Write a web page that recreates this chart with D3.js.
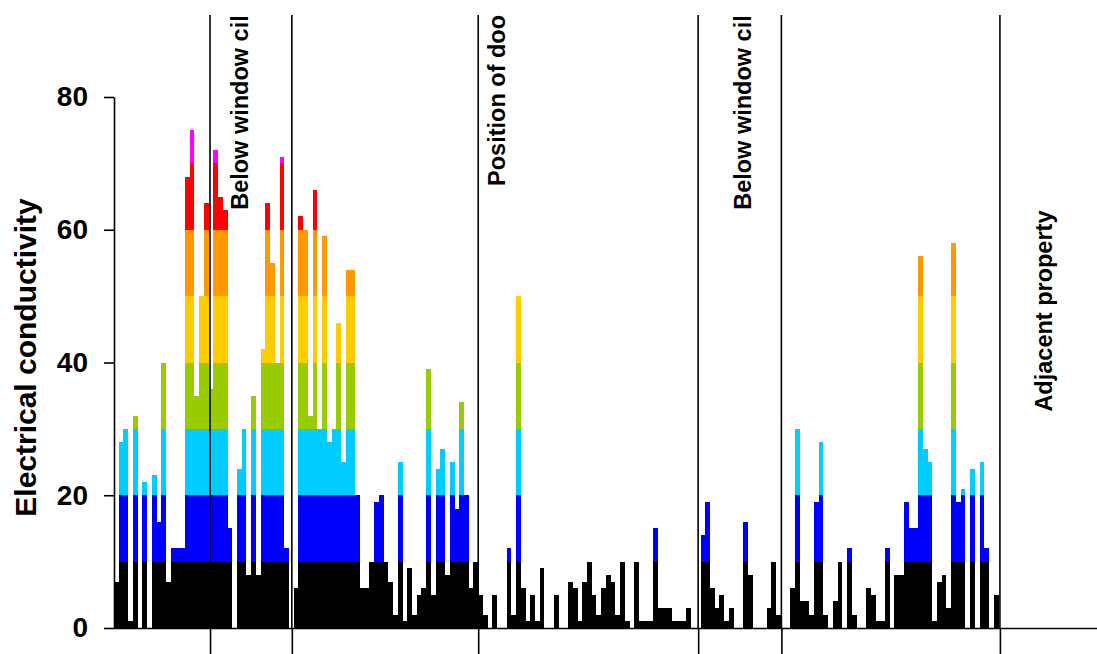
<!DOCTYPE html>
<html>
<head>
<meta charset="utf-8">
<script src="https://cdnjs.cloudflare.com/ajax/libs/d3/7.8.5/d3.min.js"></script>
<style>
  body { margin: 0; background: #fff; }
  text { font-family: "Liberation Sans", Arial, sans-serif; font-weight: bold; }
</style>
</head>
<body>
<div id="chart"></div>
<script>
// Conductivity reading for each position along the wall
const conductivity = [
  7, 28, 30, 1, 32, 0, 22, 0, 23, 16, 40, 7, 12, 12, 12, 68, 75, 35, 50, 64,
  36, 72, 65, 63, 15, 0, 24, 30, 8, 35, 8, 42, 64, 55, 40, 71, 12, 0, 6, 62,
  60, 32, 66, 30, 59, 28, 30, 46, 25, 54, 54, 20, 6, 6, 10, 19, 20, 10, 7, 2,
  25, 1, 9, 2, 5, 6, 39, 5, 24, 27, 8, 25, 18, 34, 20, 6, 10, 5, 2, 0,
  5, 0, 0, 12, 2, 50, 6, 1, 5, 1, 9, 0, 0, 5, 0, 0, 7, 6, 1, 7,
  10, 5, 2, 6, 8, 7, 2, 10, 1, 0, 10, 1, 1, 1, 15, 3, 3, 3, 1, 1,
  1, 3, 0, 0, 14, 19, 6, 3, 5, 1, 3, 0, 0, 16, 8, 0, 0, 0, 3, 10,
  2, 0, 0, 6, 30, 4, 4, 2, 19, 28, 2, 0, 4, 10, 0, 12, 2, 0, 0, 6,
  5, 1, 1, 12, 0, 8, 8, 19, 15, 15, 56, 27, 25, 1, 7, 8, 3, 58, 19, 21,
  0, 24, 0, 25, 12, 0, 5
];

// Colour bands of 10 units each
const bandEdges = [0, 10, 20, 30, 40, 50, 60, 70, 80];
const bandColors = ["#000000", "#0000ff", "#00ccff", "#99cc00", "#ffcc00", "#ff9900", "#ff0000", "#ff00ff"];

const yTicks = [0, 20, 40, 60, 80];

// Features along the wall (in bar positions)
const markerPositions = [20.3, 37.6, 77.0, 123.5, 141.1, 187.3];
const labelTexts = ["Below window cill", "Position of door", "Below window cill", "Adjacent property"];
const labelPositions = [26.6, 80.8, 132.8, 196.6];
const labelBases = [63, 66.6, 63, 32.6];

const W = 1097, H = 654;
const plotLeft = 114, plotTop = 15, barsRight = 998.5;
const n = conductivity.length;

const svg = d3.select("#chart").append("svg")
  .attr("width", W)
  .attr("height", H);

const xBand = d3.scaleBand()
  .domain(d3.range(n))
  .range([plotLeft, barsRight])
  .padding(0);

const xPos = d3.scaleLinear()
  .domain([0, n])
  .range([plotLeft, barsRight]);

const y = d3.scaleLinear()
  .domain([0, 80])
  .range([628, 97]);

svg.append("clipPath")
  .attr("id", "plotClip")
  .append("rect")
  .attr("x", plotLeft)
  .attr("y", plotTop)
  .attr("width", W - plotLeft)
  .attr("height", y(0) - plotTop);

const plot = svg.append("g").attr("clip-path", "url(#plotClip)");

// Split each bar into its 10-unit colour bands
const segments = [];
conductivity.forEach((v, i) => {
  bandColors.forEach((c, k) => {
    const lo = bandEdges[k];
    const hi = Math.min(v, bandEdges[k + 1]);
    if (hi > lo) segments.push({ i, lo, hi, k });
  });
});

plot.selectAll(".seg")
  .data(segments)
  .enter().append("rect")
  .attr("class", "seg")
  .attr("x", d => xBand(d.i))
  .attr("width", xBand.bandwidth())
  .attr("y", d => y(d.hi))
  .attr("height", d => y(d.lo) - y(d.hi))
  .attr("fill", d => bandColors[d.k])
  .attr("shape-rendering", "crispEdges");

// Feature lines
plot.selectAll(".marker")
  .data(markerPositions)
  .enter().append("line")
  .attr("class", "marker")
  .attr("x1", d => xPos(d))
  .attr("x2", d => xPos(d))
  .attr("y1", plotTop)
  .attr("y2", y(0))
  .attr("stroke", "#000")
  .attr("stroke-width", 1.6);

// Feature labels (clipped at the top like the original)
plot.selectAll(".flabel")
  .data(labelTexts)
  .enter().append("text")
  .attr("class", "flabel")
  .attr("transform", (d, i) => `translate(${xPos(labelPositions[i])},${y(labelBases[i])}) rotate(-90)`)
  .attr("dy", "0.36em")
  .style("font-size", "23.5px")
  .style("fill", "#000")
  .text(d => d);

// Y axis
const yAxis = d3.axisLeft(y)
  .tickValues(yTicks)
  .tickSize(10)
  .tickSizeOuter(0)
  .tickPadding(16);

const yg = svg.append("g")
  .attr("transform", `translate(${plotLeft},0)`)
  .call(yAxis);

yg.selectAll("text")
  .style("font-size", "28px")
  .style("font-family", "'Liberation Sans', Arial, sans-serif")
  .style("font-weight", "bold")
  .attr("fill", "#000");
yg.selectAll("line, path").attr("stroke", "#000").attr("stroke-width", 1.6);

// X axis: base line to the right edge and ticks at the feature positions
const xAxis = d3.axisBottom(xPos)
  .tickValues(markerPositions)
  .tickSize(30)
  .tickSizeOuter(0)
  .tickFormat("");

const xg = svg.append("g")
  .attr("transform", `translate(0,${y(0) + 0.5})`)
  .call(xAxis);
xg.select(".domain").remove();
xg.selectAll("line").attr("stroke", "#000").attr("stroke-width", 1.6);

xg.append("line")
  .attr("x1", plotLeft)
  .attr("x2", W)
  .attr("y1", 0)
  .attr("y2", 0)
  .attr("stroke", "#000")
  .attr("stroke-width", 1.6);

// Y axis title
svg.append("text")
  .attr("transform", `translate(36,${(y(0) + y(80)) / 2 - 5}) rotate(-90)`)
  .attr("text-anchor", "middle")
  .style("font-size", "30px")
  .style("fill", "#000")
  .text("Electrical conductivity");
</script>
</body>
</html>
